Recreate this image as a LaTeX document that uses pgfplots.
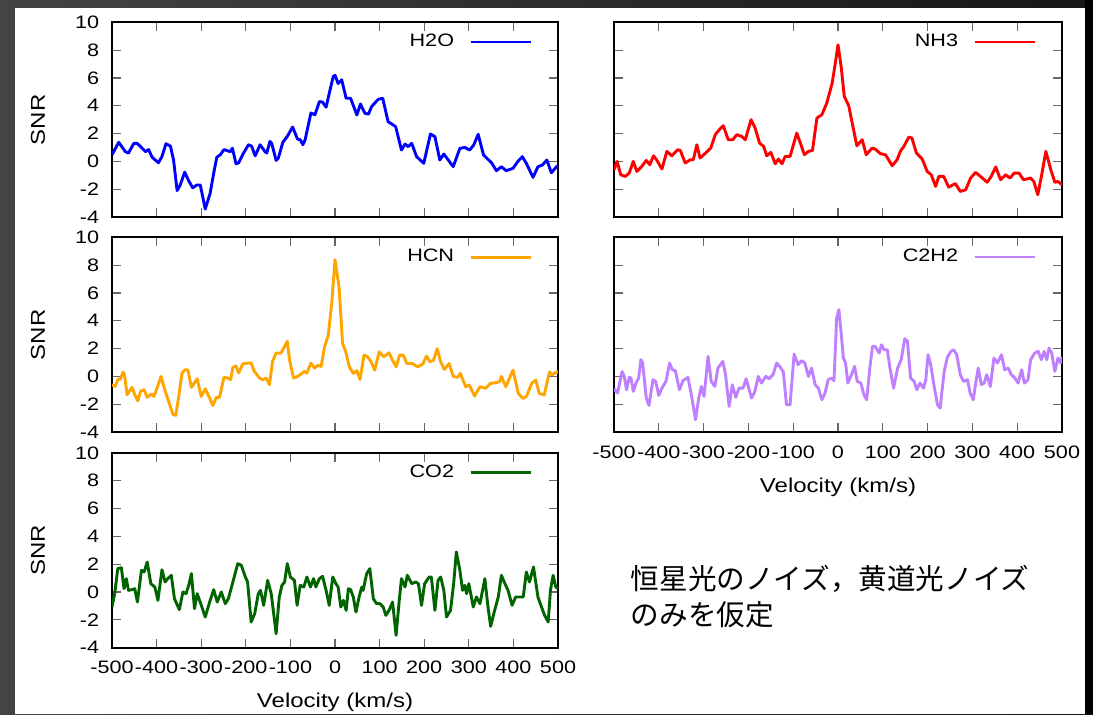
\documentclass[border=0pt]{standalone}
\usepackage{pgfplots}
\pgfplotsset{compat=1.18}
\usepackage{pgfplotstable}
\usepackage{fontspec}
\setmainfont[FakeStretch=1.2]{Liberation Sans}
\newfontfamily\jp{Noto Sans CJK JP}

\definecolor{cHtwoO}{RGB}{0,0,255}
\definecolor{cNHthree}{RGB}{255,0,0}
\definecolor{cHCN}{RGB}{255,165,0}
\definecolor{cCtwoHtwo}{RGB}{191,128,255}
\definecolor{cCOtwo}{RGB}{0,100,0}
\definecolor{bgA}{RGB}{68,68,68}
\definecolor{bgB}{RGB}{22,22,22}

\pgfplotstableread{
v s
-500 0.48
-485 1.37
-470 0.7
-463 0.6
-451 1.3
-444 1.3
-437 1.1
-425 0.7
-418 0.85
-410 0.3
-396 -0.1
-388 0.35
-379 1.27
-369 1.1
-362 0.1
-354 -2.1
-347 -1.7
-337 -0.77
-328 -1.4
-319 -1.9
-310 -1.7
-302 -1.7
-291 -3.43
-280 -2.3
-272 -0.85
-265 0.3
-257 0.48
-249 0.85
-235 0.7
-230 0.95
-222 -0.17
-216 -0.1
-205 0.6
-194 1.2
-187 1.1
-179 0.4
-168 1.2
-157 0.7
-153 0.6
-146 1.44
-142 1.3
-132 0.07
-127 0.24
-117 1.37
-107 1.8
-95 2.47
-84 1.6
-78 1.56
-72 1.2
-67 1.56
-54 3.48
-45 3.36
-35 4.3
-28 4.27
-20 3.9
-11 5.16
-4 6.1
0 6.2
7 5.6
15 5.87
25 4.54
35 4.54
49 3.34
57 4.13
67 3.46
75 3.4
82 3.94
97 4.47
107 4.54
119 2.86
136 2.5
149 0.82
157 1.25
164 1.06
172 1.3
183 0.34
199 -0.14
214 1.97
224 1.78
235 0.1
244 0.53
254 0.1
265 -0.38
280 0.94
291 1.0
302 0.82
311 1.18
321 1.95
333 0.46
351 -0.1
362 -0.67
373 -0.38
384 -0.67
399 -0.5
410 0
420 0.34
429 -0.14
444 -1.15
455 -0.38
465 -0.26
475 0.1
485 -0.82
498 -0.34
500 -0.4
}\tabHtwoO

\pgfplotstableread{
v s
-500 -0.6
-493 0
-485 -0.96
-475 -1.08
-466 -0.84
-457 0
-449 -0.72
-438 -0.36
-428 0.07
-420 -0.24
-412 0.4
-405 0.12
-393 -0.55
-382 0.72
-371 0.4
-358 0.84
-352 0.79
-341 -0.12
-330 0.12
-323 0.12
-315 1.2
-308 0.24
-294 0.65
-284 0.96
-274 1.92
-265 2.28
-256 2.57
-245 1.56
-235 1.56
-226 1.92
-215 1.8
-207 1.56
-194 3.0
-185 2.4
-175 1.32
-166 1.08
-159 0.4
-150 0.65
-140 -0.17
-133 0.17
-125 -0.17
-118 0.36
-107 0.36
-92 2.04
-84 1.32
-75 0.48
-66 0.72
-57 0.79
-47 3.12
-36 3.36
-25 4.2
-13 5.64
-6 7.07
0 8.39
7 6.83
14 4.68
24 4.0
34 2.4
42 1.13
54 1.56
63 0.48
76 0.96
83 0.89
95 0.55
106 0.48
121 -0.31
132 0.12
139 0.72
147 1.08
158 1.75
165 1.68
175 0.6
188 0.17
199 -0.72
208 -0.96
218 -1.8
225 -1.08
236 -1.08
247 -1.85
262 -1.6
273 -2.16
285 -2.04
296 -1.2
307 -0.79
318 -1.08
333 -1.5
342 -1.08
352 -0.4
363 -1.32
374 -0.96
384 -1.2
393 -0.84
404 -0.84
414 -1.32
430 -1.2
437 -1.44
446 -2.4
454 -1.08
464 0.72
475 -0.6
484 -1.5
491 -1.44
500 -1.68
}\tabNHthree

\pgfplotstableread{
v s
-500 -0.6
-493 -0.72
-487 -0.24
-481 -0.17
-475 0.31
-472 0.12
-466 -1.32
-460 -1.03
-455 -0.79
-449 -1.32
-442 -1.75
-436 -1.08
-428 -0.96
-421 -1.5
-412 -1.27
-406 -1.44
-399 -0.84
-390 0
-381 -1.03
-371 -2.0
-363 -2.76
-357 -2.8
-351 -1.56
-343 0.24
-336 0.48
-330 0.48
-322 -0.79
-313 -0.36
-309 -0.17
-300 -1.44
-291 -0.89
-281 -1.56
-274 -2.09
-266 -1.51
-259 -1.51
-249 -0.07
-240 -0.12
-234 -0.24
-229 0.65
-222 0.75
-216 0.24
-207 0.89
-196 0.96
-188 0.96
-181 0.36
-169 -0.12
-162 -0.24
-154 -0.12
-147 -0.6
-140 1.08
-132 1.68
-121 1.68
-115 2.04
-107 2.52
-102 1.2
-93 -0.12
-84 0
-76 0.17
-69 0.36
-63 0.24
-54 0.96
-46 0.6
-39 0.79
-31 0.72
-24 2.04
-15 3.0
-7 5.4
0 8.4
9 6.44
17 2.37
24 1.77
32 0.69
41 0.22
49 0.41
56 -0.22
65 1.53
73 1.41
81 1.05
89 0.45
99 1.77
109 1.41
121 1.7
129 1.17
137 0.69
145 1.53
153 1.53
161 0.93
173 0.93
185 0.69
197 0.89
205 1.46
213 1.05
221 1.17
229 2.0
237 1.05
245 0.5
256 0.93
265 0
275 -0.07
281 0.22
293 -0.74
301 -0.62
313 -1.41
325 -0.74
337 -0.86
349 -0.5
361 -0.45
369 -0.38
373 0
383 -0.74
399 0.45
411 -1.22
421 -1.58
429 -1.46
441 -0.5
450 -0.26
458 -1.22
469 -1.34
481 0.33
487 0.1
497 0.33
500 0.3
}\tabHCN

\pgfplotstableread{
v s
-500 -0.89
-492 -1.2
-482 0.36
-477 0
-472 -0.96
-466 -0.07
-462 -0.12
-457 -1.08
-451 -0.48
-445 -0.12
-440 1.2
-436 0.96
-428 -1.56
-422 -2.09
-413 -0.24
-407 -0.36
-400 -1.37
-393 -0.84
-384 -0.36
-376 0.96
-370 0.48
-363 0.41
-354 -0.96
-346 -0.31
-335 -0.07
-328 -1.2
-318 -3.12
-311 -1.56
-305 -0.72
-299 -1.44
-290 1.44
-283 -0.36
-275 -0.72
-268 0.6
-257 1.08
-251 0.12
-243 -2.16
-236 -0.6
-228 -1.51
-221 -0.84
-212 -0.84
-205 -0.17
-193 -1.56
-186 -1.13
-178 0
-171 -0.48
-161 0
-154 -0.17
-145 0.12
-137 0.96
-130 0.72
-122 0.31
-115 -2.04
-107 -2.04
-98 1.6
-89 0.84
-81 1.13
-74 0.96
-66 0
-59 0.6
-51 -0.6
-44 -0.84
-36 -1.68
-29 -1.2
-22 -0.24
-14 -0.12
-9 -0.31
-3 4.2
2 4.8
6 3.48
12 1.32
17 0.96
22 -0.48
30 0.12
37 0.72
43 -0.36
51 -0.48
58 -1.32
64 -1.68
71 0.6
77 2.16
83 2.16
92 1.68
97 2.28
103 1.92
110 1.92
116 0.6
124 -0.84
133 0.6
141 1.2
149 2.71
155 2.52
162 -0.12
170 -0.36
176 -0.96
183 -0.48
191 -0.84
196 -0.24
201 1.56
207 0.84
214 -0.6
222 -2.04
228 -2.28
237 0.36
244 1.37
252 1.8
258 1.92
265 1.56
273 0.12
280 -0.36
289 -0.24
295 -1.2
302 -1.68
308 -0.36
313 0.6
320 -0.6
326 -0.48
332 0.12
340 -0.72
348 1.32
356 0.96
365 1.56
372 0.48
380 0.6
387 0.12
395 -0.12
402 -0.48
410 0.48
416 -0.48
424 -0.24
430 1.2
439 1.68
447 1.8
454 1.2
460 1.8
466 1.2
471 2.04
477 1.68
484 0.36
491 1.32
497 0.96
500 1.4
}\tabCtwoHtwo

\pgfplotstableread{
v s
-500 -1.08
-494 -0.12
-487 1.68
-479 1.75
-473 0.24
-468 0.96
-463 0.12
-455 0.17
-449 0.24
-443 -0.72
-434 1.56
-428 1.44
-421 2.16
-413 0.6
-404 0.36
-397 -0.6
-388 1.6
-381 0.72
-375 0.96
-367 1.2
-360 -0.48
-349 -1.27
-341 0
-334 -0.12
-328 0.48
-322 1.32
-315 -1.2
-309 -0.12
-301 -0.84
-291 -1.8
-281 -0.72
-272 0.17
-264 -0.72
-255 0
-246 -0.84
-239 -0.48
-229 0.72
-218 2.04
-210 1.92
-201 1.08
-196 0.72
-188 -2.16
-180 -1.56
-172 -0.12
-167 0.12
-160 -0.96
-151 0.84
-143 -0.12
-132 -3.0
-125 -0.36
-119 0.48
-113 0.72
-107 2.04
-100 1.08
-91 0.84
-85 -0.96
-78 0.48
-70 0.36
-63 1.08
-55 0.36
-48 0.96
-43 0.36
-35 0.96
-28 1.13
-20 0.12
-13 -0.96
-5 1.08
2 0.6
7 0.36
13 -1.08
19 -0.6
25 -1.32
30 0.24
35 0.17
41 -0.36
47 -1.44
54 -0.36
60 0.36
63 0.12
71 1.32
78 1.68
86 -0.48
93 -0.84
101 -0.84
108 -1.08
114 -1.68
122 -1.27
129 -0.72
137 -3.12
144 -0.6
149 0.96
157 0.36
162 1.2
172 0.6
181 0.72
187 0.6
194 -0.96
201 0.6
211 1.08
216 1.08
224 -1.32
231 0.84
237 1.08
244 0.12
250 -1.8
259 -1.32
266 0.6
272 2.88
280 1.56
286 0.12
291 0.48
295 -0.12
300 0.6
310 -1.08
317 -0.36
325 -0.84
336 0.96
343 -1.08
349 -2.47
356 -1.56
366 -0.36
373 1.2
381 0.6
388 0.12
397 -0.96
405 -0.36
413 -0.36
422 -0.36
429 1.44
436 0.72
445 1.8
455 -0.36
463 -1.08
470 -1.68
478 -2.16
483 0.12
489 1.2
495 0.36
500 0.24
}\tabCOtwo

\pgfplotsset{
  panel/.style={
    scale only axis, width=223pt, height=97.3pt,
    xmin=-500, xmax=500, ymin=-4, ymax=10,
    xtick={-500,-400,...,500}, ytick={-4,-2,...,10},
    xticklabels={-500,-400,-300,-200,-100,0,100,200,300,400,500},
    yticklabels={-4,-2,0,2,4,6,8,10},
    tick align=inside, major tick length=4.5pt,
    major tick style={black!60, line width=0.6pt},
    axis line style={line width=1pt, black},
    tick label style={font=\fontsize{9}{10}\selectfont, inner sep=0pt},
    label style={font=\fontsize{9}{10}\selectfont},
    yticklabel style={anchor=east, xshift=-6.2pt},
    xticklabel style={anchor=base, yshift=-13pt},
    every axis y label/.style={at={(rel axis cs:0,0.5)}, anchor=base, xshift=-33.5pt, rotate=90},
    every axis x label/.style={at={(rel axis cs:0.5,0)}, anchor=base, yshift=-30pt},
    legend plot pos=right,
    legend style={draw=none, fill=none, at={(rel axis cs:1,1)}, anchor=east,
      xshift=-12.85pt, yshift=-9.85pt, inner sep=0pt,
      nodes={inner sep=0pt}, font=\fontsize{9}{10}\selectfont},
    legend image code/.code={\path (0pt,0pt); \draw[##1, line width=1.4pt] (7.5pt,0pt) -- (37.5pt,0pt);},
    every axis plot/.append style={line width=1.45pt, line join=round, no marks},
  },
  noxl/.style={xticklabels={}},
  noyl/.style={yticklabels={}},
}

\begin{document}
\begin{tikzpicture}
\useasboundingbox (0,0) rectangle (546.5pt,357pt);
\shade[left color=bgA, right color=bgB] (0,0) rectangle (546.5pt,357pt);
\fill[black] (542.5pt,0) rectangle (546.5pt,357pt);
\fill[white] (7.5pt,0) rectangle (542.5pt,353pt);

\begin{axis}[panel, noxl, at={(56pt,248.5pt)}, anchor=south west, ylabel={SNR}]
\addplot[cHtwoO] table[x=v,y=s] {\tabHtwoO};
\addlegendentry{H2O}
\end{axis}

\begin{axis}[panel, noxl, noyl, width=224pt, at={(307pt,248.5pt)}, anchor=south west]
\addplot[cNHthree] table[x=v,y=s] {\tabNHthree};
\addlegendentry{NH3}
\end{axis}

\begin{axis}[panel, noxl, at={(56pt,141pt)}, anchor=south west, ylabel={SNR}]
\addplot[cHCN] table[x=v,y=s] {\tabHCN};
\addlegendentry{HCN}
\end{axis}

\begin{axis}[panel, noyl, width=224pt, at={(307pt,141pt)}, anchor=south west, xlabel={Velocity (km/s)}]
\addplot[cCtwoHtwo] table[x=v,y=s] {\tabCtwoHtwo};
\addlegendentry{C2H2}
\end{axis}

\begin{axis}[panel, at={(56pt,33.2pt)}, anchor=south west, ylabel={SNR}, xlabel={Velocity (km/s)}]
\addplot[cCOtwo] table[x=v,y=s] {\tabCOtwo};
\addlegendentry{CO2}
\end{axis}

\node[anchor=west, align=left, inner sep=0pt, font=\jp\fontsize{14.3}{18}\selectfont] at (315.2pt,58.5pt) {恒星光のノイズ，黄道光ノイズ\\のみを仮定};
\end{tikzpicture}
\end{document}
